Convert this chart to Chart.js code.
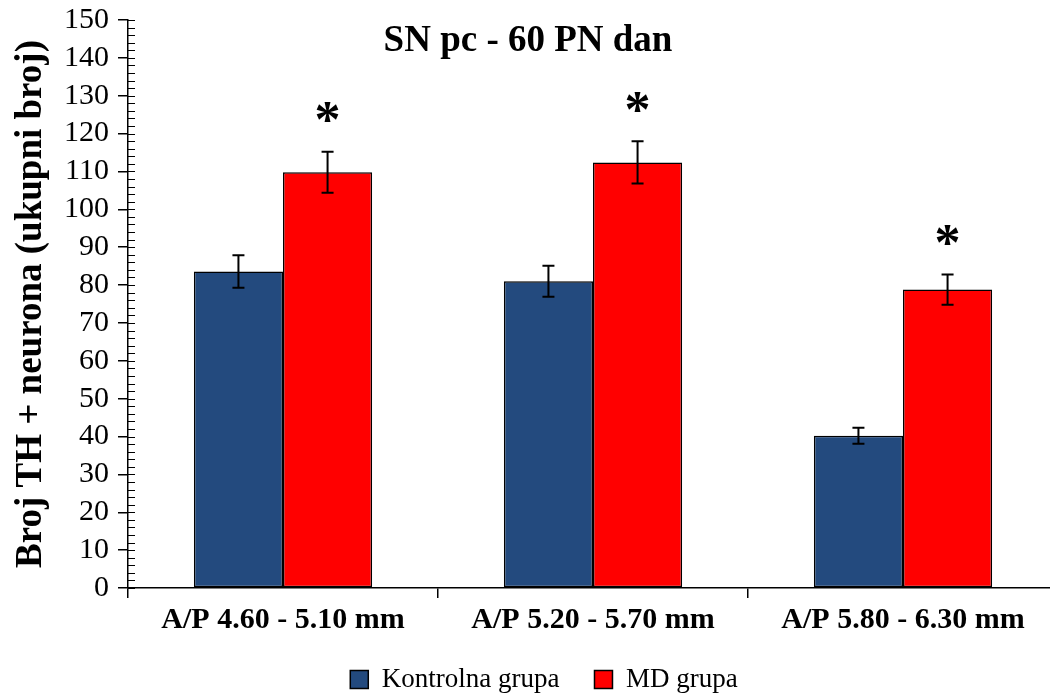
<!DOCTYPE html>
<html>
<head>
<meta charset="utf-8">
<script src="https://cdn.jsdelivr.net/npm/chart.js@4/dist/chart.umd.min.js"></script>
<style>
  html, body { margin: 0; padding: 0; background: #fff; overflow: hidden; }
  #wrap { width: 1060px; height: 704px; }
</style>
</head>
<body>
<div id="wrap"><canvas id="grafik" width="1060" height="704"></canvas></div>
<script>
// podaci
const kategorije = ["A/P 4.60 - 5.10 mm", "A/P 5.20 - 5.70 mm", "A/P 5.80 - 6.30 mm"];
const kontrolna = [83.6, 81.0, 40.2];
const kontrolnaSem = [4.3, 4.1, 2.1];
const mdGrupa = [109.8, 112.4, 78.8];
const mdSem = [5.4, 5.6, 4.0];
const znacajno = [true, true, true]; // * iznad MD grupe
const yTicks = [0, 10, 20, 30, 40, 50, 60, 70, 80, 90, 100, 110, 120, 130, 140, 150];

const serif = "'Liberation Serif', 'Times New Roman', serif";

// error barovi + zvjezdice
const errorBars = {
  id: "errorBars",
  afterDatasetsDraw(chart) {
    const ctx = chart.ctx;
    const y = chart.scales.y;
    const sems = [kontrolnaSem, mdSem];
    ctx.save();
    ctx.strokeStyle = "#000";
    ctx.lineWidth = 2;
    chart.data.datasets.forEach((ds, di) => {
      const meta = chart.getDatasetMeta(di);
      meta.data.forEach((bar, i) => {
        const v = ds.data[i];
        const top = y.getPixelForValue(v + sems[di][i]);
        const bot = y.getPixelForValue(v - sems[di][i]);
        const x = bar.x;
        ctx.beginPath();
        ctx.moveTo(x, top); ctx.lineTo(x, bot);
        ctx.moveTo(x - 6, top); ctx.lineTo(x + 6, top);
        ctx.moveTo(x - 6, bot); ctx.lineTo(x + 6, bot);
        ctx.stroke();
        if (di === 1 && znacajno[i]) {
          ctx.fillStyle = "#000";
          ctx.font = "bold 52px " + serif;
          ctx.textAlign = "center";
          ctx.textBaseline = "middle";
          ctx.fillText("*", x, top - 28);
        }
      });
    });
    ctx.restore();
  }
};

// sitne crtice na y osi + naslov
const minorTicks = {
  id: "minorTicks",
  afterDraw(chart) {
    const ctx = chart.ctx;
    const y = chart.scales.y;
    const left = chart.chartArea.left;
    ctx.save();
    ctx.strokeStyle = "#000";
    ctx.lineWidth = 1;
    for (let v = 0; v <= 150; v += 2) {
      const py = Math.round(y.getPixelForValue(v)) + 0.5;
      ctx.beginPath();
      ctx.moveTo(left, py);
      ctx.lineTo(left + 7, py);
      ctx.stroke();
    }
    ctx.fillStyle = "#000";
    ctx.font = "bold 37px " + serif;
    ctx.textAlign = "center";
    ctx.textBaseline = "middle";
    ctx.fillText("SN pc - 60 PN dan", 528, 41);
    ctx.restore();
  }
};

new Chart(document.getElementById("grafik"), {
  type: "bar",
  data: {
    labels: kategorije,
    datasets: [
      {
        label: "Kontrolna grupa",
        data: kontrolna,
        backgroundColor: "#234a7e",
        borderColor: "#000",
        borderWidth: 1.5,
        borderSkipped: false,
      },
      {
        label: "MD grupa",
        data: mdGrupa,
        backgroundColor: "#ff0000",
        borderColor: "#000",
        borderWidth: 1.5,
        borderSkipped: false,
      },
    ],
  },
  options: {
    responsive: false,
    animation: false,
    layout: { padding: { top: 20, right: 2, left: 30, bottom: 1 } },
    datasets: { bar: { categoryPercentage: 0.575, barPercentage: 1 } },
    plugins: {
      title: { display: false },
      tooltip: { enabled: false },
      legend: {
        position: "bottom",
        labels: {
          color: "#000",
          font: { family: serif, size: 27 },
          boxWidth: 18,
          boxHeight: 18,
          padding: 35,
          useBorderRadius: false,
        },
      },
    },
    scales: {
      x: {
        afterFit: (s) => { s.height = 43; s.paddingLeft = 0; s.paddingRight = 0; },
        grid: { display: true, drawOnChartArea: false, tickLength: 10, color: "#000", lineWidth: 1.5, offset: true },
        border: { display: true, color: "#000", width: 1.5 },
        ticks: { color: "#000", font: { family: serif, size: 30, weight: "bold" }, padding: 4, maxRotation: 0 },
      },
      y: {
        min: 0,
        max: 150,
        afterFit: (s) => { s.width = 98; s.paddingTop = 0; s.paddingBottom = 0; },
        afterBuildTicks: (s) => { s.ticks = yTicks.map((v) => ({ value: v })); },
        grid: { display: true, drawOnChartArea: false, tickLength: 10, color: "#000", lineWidth: 1.5 },
        border: { display: true, color: "#000", width: 1.5 },
        ticks: { color: "#000", font: { family: serif, size: 30 }, padding: 9, autoSkip: false },
        title: {
          display: true,
          text: "Broj TH + neurona (ukupni broj)",
          color: "#000",
          font: { family: serif, size: 37, weight: "bold" },
          padding: { top: -21, bottom: 0 },
        },
      },
    },
  },
  plugins: [errorBars, minorTicks],
});
</script>
</body>
</html>
